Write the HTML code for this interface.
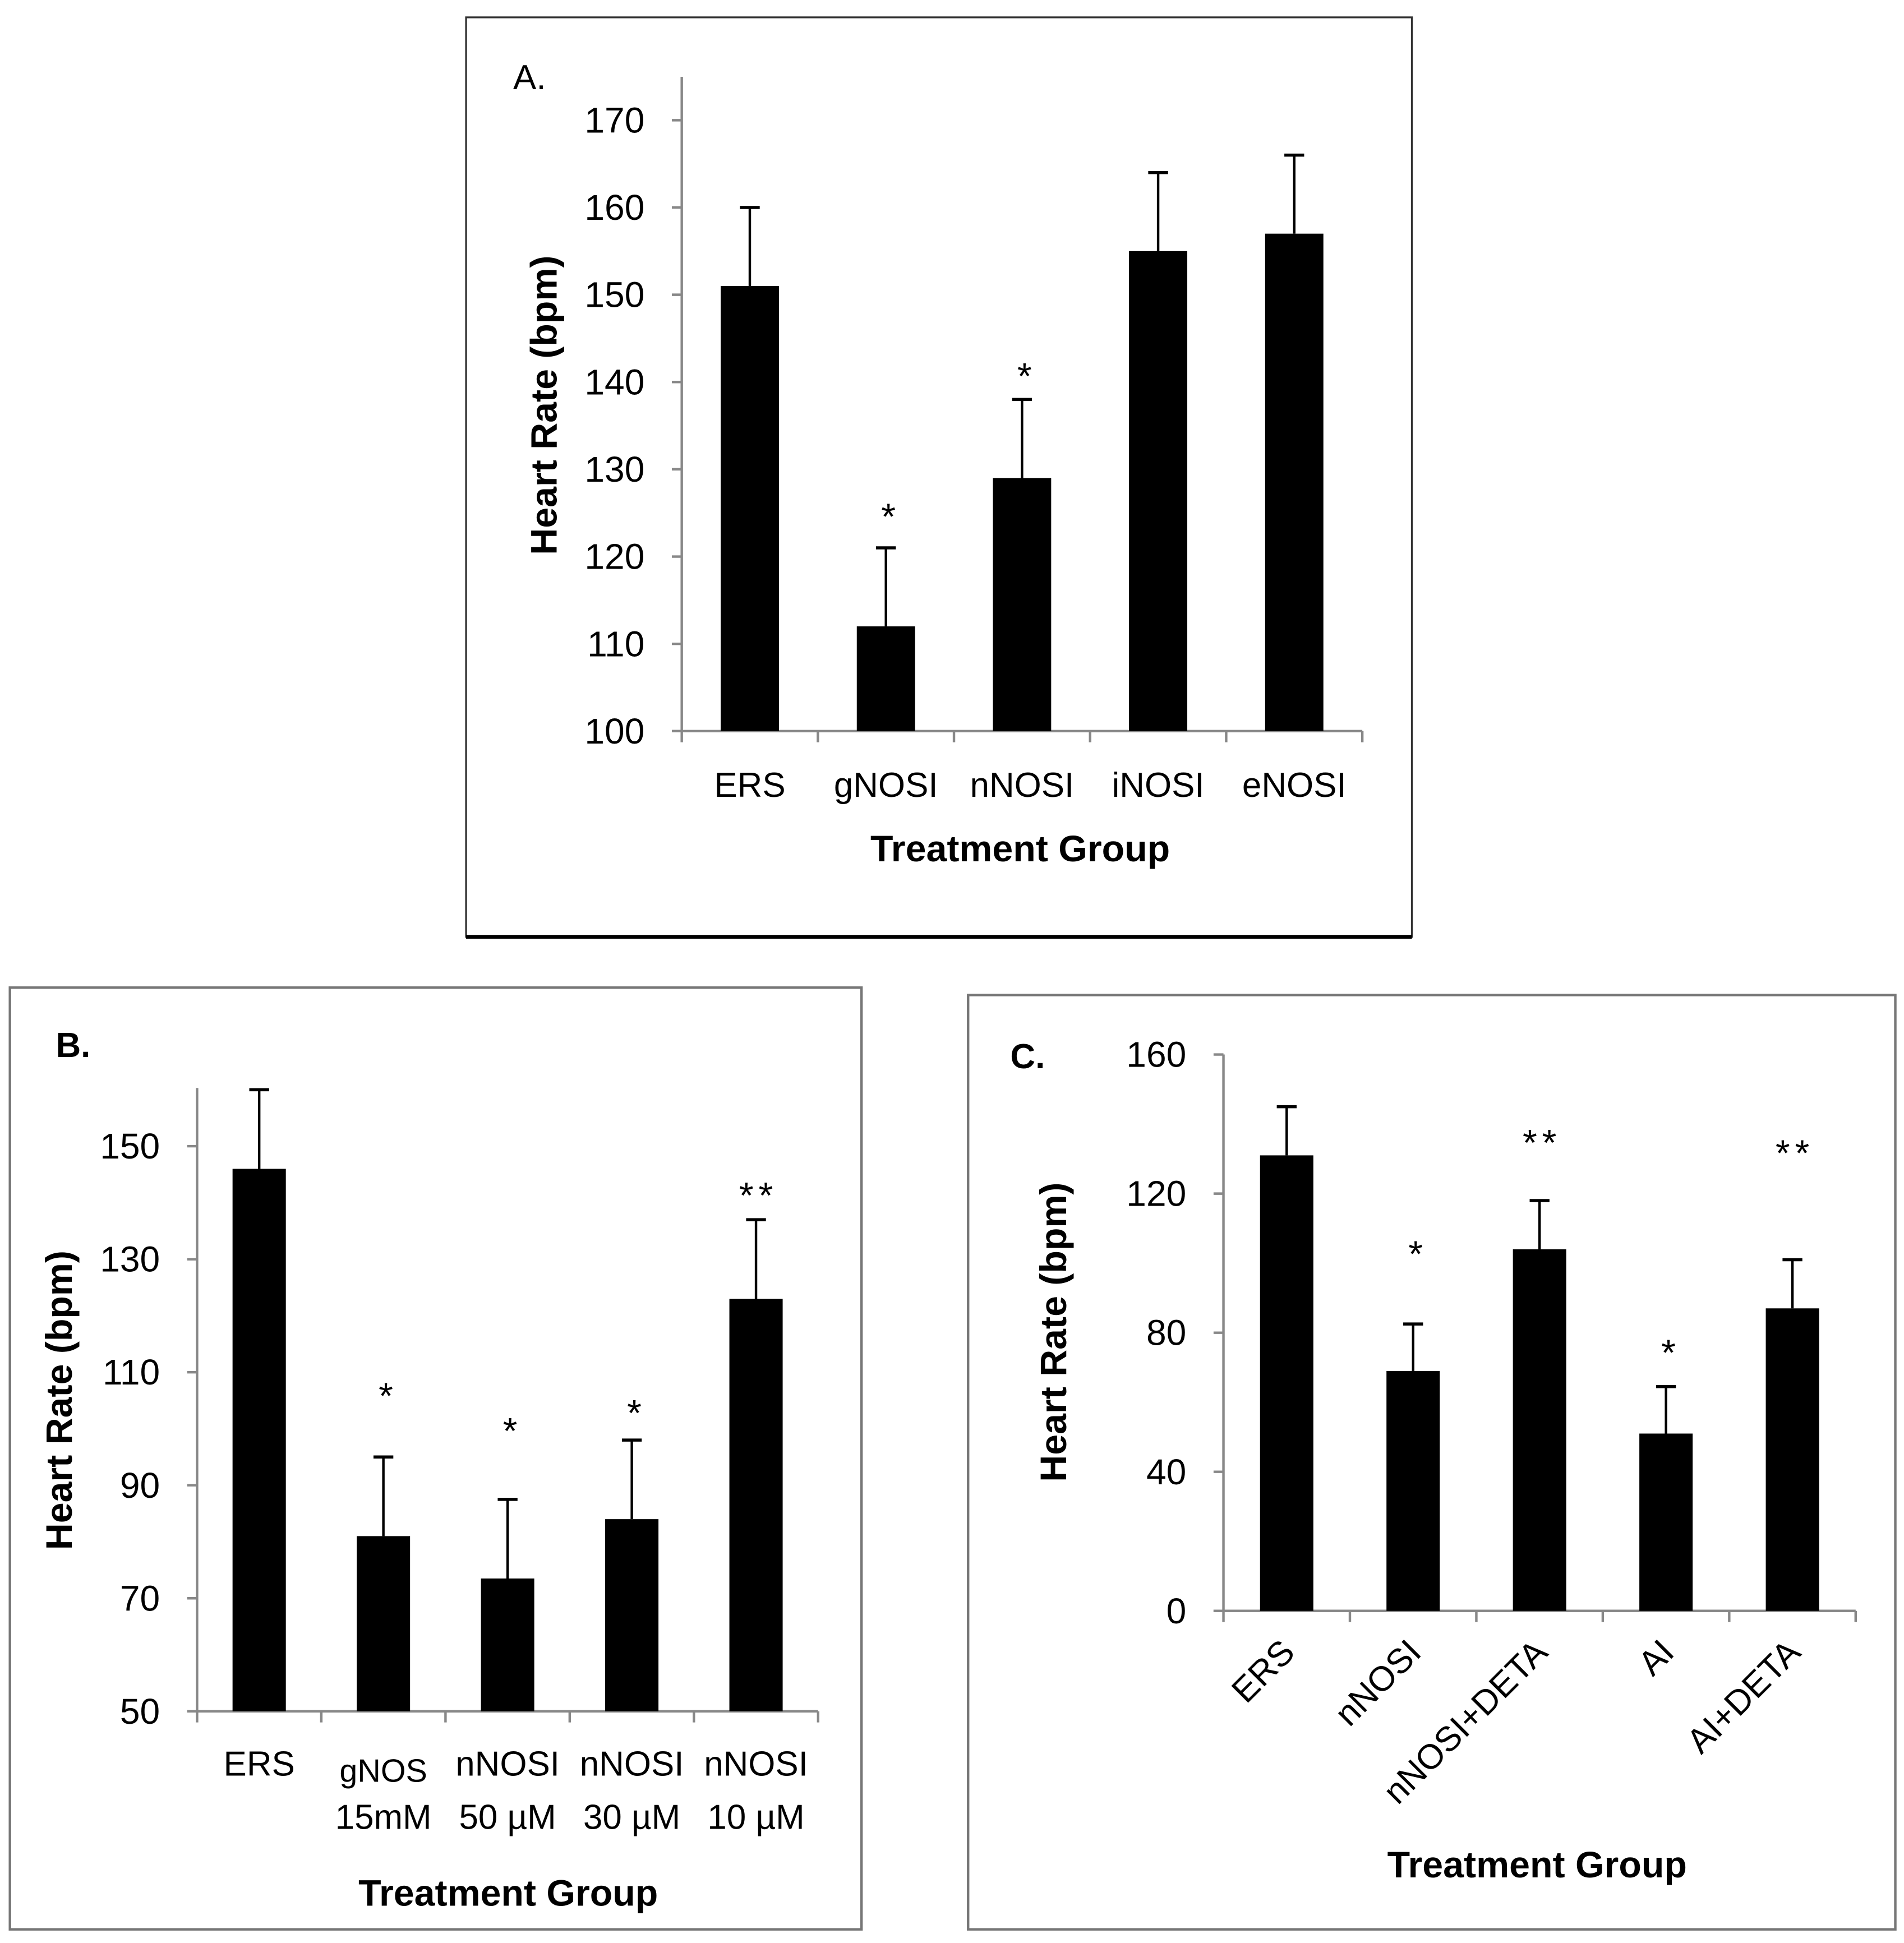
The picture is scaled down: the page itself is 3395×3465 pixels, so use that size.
<!DOCTYPE html>
<html><head><meta charset="utf-8">
<style>
html,body{margin:0;padding:0;background:#fff;}
svg{display:block;}
text{font-family:"Liberation Sans",sans-serif;fill:#000;}
</style></head>
<body>
<svg id="fig" xmlns="http://www.w3.org/2000/svg" width="3395" height="3465" viewBox="0 0 1536 1568" preserveAspectRatio="none">
<rect x="376" y="14" width="763" height="742" fill="none" stroke="#333" stroke-width="1.5"/>
<line x1="376" y1="756" x2="1139" y2="756" stroke="#000" stroke-width="3"/>
<rect x="8" y="797" width="687" height="760" fill="none" stroke="#777" stroke-width="2"/>
<rect x="781" y="803" width="748" height="754" fill="none" stroke="#777" stroke-width="2"/>
<g id="pa"></g>
<g id="pb"></g>
<g id="pc"></g>
</svg>
<script>
// Panel A data
const aCats = ["ERS","gNOSI","nNOSI","iNOSI","eNOSI"];
const aVals = [151,112,129,155,157];
const aErr = [9,9,9,9,9];
const aStars = ["","*","*","",""];
const aStarVals = [0,123.4,139.5,0,0];
const aTicks = [100,110,120,130,140,150,160,170];
// Panel B data
const bCats = [["ERS"],["gNOS","15mM"],["nNOSI","50 µM"],["nNOSI","30 µM"],["nNOSI","10 µM"]];
const bVals = [146,81,73.5,84,123];
const bErr = [14,14,14,14,14];
const bStars = ["","*","*","*","**"];
const bStarVals = [0,104,97.8,101,139.5];
const bTicks = [50,70,90,110,130,150];
// Panel C data
const cCats = ["ERS","nNOSI","nNOSI+DETA","AI","AI+DETA"];
const cVals = [131,69,104,51,87];
const cErr = [14,13.5,14,13.5,14];
const cStars = ["","*","**","*","**"];
const cStarVals = [0,99.7,131.7,71.3,128.7];
const cTicks = [0,40,80,120,160];

const NS="http://www.w3.org/2000/svg";
function mk(parent,tag,attrs,txt){
  const e=document.createElementNS(NS,tag);
  for(const k in attrs)e.setAttribute(k,attrs[k]);
  if(txt!==undefined)e.textContent=txt;
  parent.appendChild(e);return e;
}
function panel(cfg){
  const g=document.getElementById(cfg.id);
  const y=v=>cfg.y0-(v-cfg.vmin)*(cfg.y0-cfg.ytop)/(cfg.vmax-cfg.vmin);
  const n=cfg.vals.length, cw=(cfg.x1-cfg.x0)/n;
  const xc=i=>cfg.x0+cw*(i+0.5);
  let ax=mk(g,'line',{x1:cfg.x0,y1:cfg.axTop,x2:cfg.x0,y2:cfg.y0,stroke:'#888','stroke-width':2});
  
  
  let bx=mk(g,'line',{x1:cfg.x0-8,y1:cfg.y0,x2:cfg.x1,y2:cfg.y0,stroke:'#888','stroke-width':2});
  
  
  cfg.ticks.forEach(t=>{
    let tl=mk(g,'line',{x1:cfg.x0-8,y1:y(t),x2:cfg.x0,y2:y(t),stroke:'#888','stroke-width':2});
    
    
    let tt=mk(g,'text',{x:cfg.x0-30,y:y(t)+10,'text-anchor':'end','font-size':29},String(t));
    
    
  });
  for(let i=0;i<=n;i++){
    let xt=mk(g,'line',{x1:cfg.x0+cw*i,y1:cfg.y0,x2:cfg.x0+cw*i,y2:cfg.y0+9,stroke:'#888','stroke-width':2});
    
    
  }
  cfg.vals.forEach((v,i)=>{
    const cx=xc(i), bw=cfg.bw;
    let b=mk(g,'rect',{x:cx-bw/2,y:y(v),width:bw,height:cfg.y0-y(v),fill:'#000'});
    
    
    const top=y(v+cfg.err[i]);
    let el=mk(g,'line',{x1:cx,y1:y(v),x2:cx,y2:top,stroke:'#000','stroke-width':2});
    
    
    let ec=mk(g,'line',{x1:cx-8,y1:top,x2:cx+8,y2:top,stroke:'#000','stroke-width':2.5});
    
    
    if(cfg.stars[i]){
      let s=mk(g,'text',{x:cx+2,y:y(cfg.starVals[i])+2,'text-anchor':'middle','font-size':30,'letter-spacing':cfg.stars[i].length>1?4:0},cfg.stars[i]);
      
      
    }
    cfg.label(g,i,cx);
  });
  let yt=mk(g,'text',{x:0,y:0,transform:`translate(${cfg.ytx},${cfg.yty}) rotate(-90)`,'text-anchor':'middle','font-size':30,'font-weight':'bold'},'Heart Rate (bpm)');
  
  
  let xt=mk(g,'text',{x:cfg.xtx,y:cfg.xty,'text-anchor':'middle','font-size':30,'font-weight':'bold'},'Treatment Group');
  
  
  let pl=mk(g,'text',{x:cfg.plx,y:cfg.ply,'font-size':28,'font-weight':cfg.plb?'bold':'normal'},cfg.pl);
  
  
}
panel({id:'pa',x0:550,x1:1099,y0:590,ytop:97,vmin:100,vmax:170,axTop:62,bw:47,vals:aVals,err:aErr,stars:aStars,starVals:aStarVals,ticks:aTicks,
  ytx:449,yty:327,xtx:823,xty:695,plx:414,ply:72,pl:'A.',plb:false,
  label:(g,i,cx)=>{let t=mk(g,'text',{x:cx,y:643,'text-anchor':'middle','font-size':28},aCats[i]);
    
    }});
panel({id:'pb',x0:159,x1:660,y0:1381,ytop:925,vmin:50,vmax:150,axTop:878,bw:43,vals:bVals,err:bErr,stars:bStars,starVals:bStarVals,ticks:bTicks,
  ytx:58,yty:1130,xtx:410,xty:1538,plx:45,ply:853,pl:'B.',plb:true,
  label:(g,i,cx)=>{bCats[i].forEach((s,k)=>{let t=mk(g,'text',{x:cx,y:1433+k*43+(i===1&&k===0?5:0),'text-anchor':'middle','font-size':i===1&&k===0?26:28,'font-weight':'normal'},s);
    
    });}});
panel({id:'pc',x0:987,x1:1497,y0:1300,ytop:851,vmin:0,vmax:160,axTop:851,bw:43,vals:cVals,err:cErr,stars:cStars,starVals:cStarVals,ticks:cTicks,
  ytx:860,yty:1075,xtx:1240,xty:1515,plx:815,ply:862,pl:'C.',plb:true,
  label:(g,i,cx)=>{let t=mk(g,'text',{x:0,y:0,transform:`translate(${cx+8},${1335}) rotate(-45)`,'text-anchor':'end','font-size':28},cCats[i]);
    
    }});
</script>
</body></html>
